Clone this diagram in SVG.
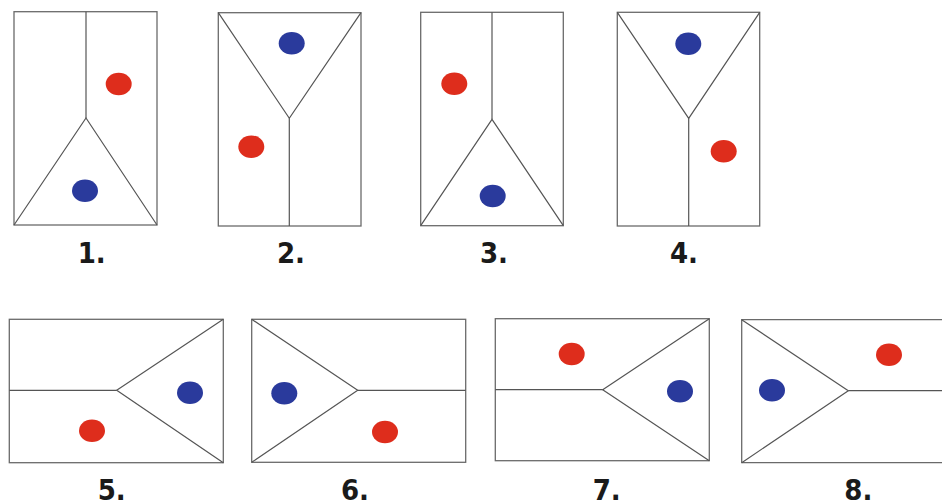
<svg xmlns="http://www.w3.org/2000/svg" width="942" height="503" viewBox="0 0 942 503">
<style>
.frame{fill:#fff;stroke:#6a6a6a;stroke-width:1.3}
.ln{fill:none;stroke:#555;stroke-width:1.2}
.red{fill:#de2d1c}
.blue{fill:#2a3a9c}
.lbl{font-family:"Liberation Sans Narrow","DejaVu Sans Condensed","Liberation Sans",sans-serif;font-weight:bold;font-size:29px;fill:#1a1a1a;text-anchor:middle}
</style>
<rect width="942" height="503" fill="#fff"/>
<g id="fig1">
<rect class="frame" x="14" y="11.7" width="143" height="213.3"/>
<polyline class="ln" points="86,11.7 86,118"/>
<polyline class="ln" points="14,225 86,118 157,225"/>
<ellipse class="red" cx="118.7" cy="84" rx="13" ry="11.3"/>
<ellipse class="blue" cx="85" cy="190.7" rx="13" ry="11.3"/>
<text class="lbl" x="91.7" y="263.3">1.</text>
</g>
<g id="fig2">
<rect class="frame" x="218.3" y="12.7" width="142.7" height="213.3"/>
<polyline class="ln" points="218.3,12.7 289.3,118.3 361,12.7"/>
<polyline class="ln" points="289.3,118.3 289.3,226"/>
<ellipse class="blue" cx="291.7" cy="43.3" rx="13" ry="11.3"/>
<ellipse class="red" cx="251.3" cy="146.7" rx="13" ry="11.3"/>
<text class="lbl" x="291" y="263.3">2.</text>
</g>
<g id="fig3">
<rect class="frame" x="420.7" y="12.3" width="142.6" height="213.4"/>
<polyline class="ln" points="492,12.3 492,119.3"/>
<polyline class="ln" points="420.7,225.7 492,119.3 563.3,225.7"/>
<ellipse class="red" cx="454.3" cy="83.7" rx="13" ry="11.3"/>
<ellipse class="blue" cx="492.7" cy="196" rx="13" ry="11.3"/>
<text class="lbl" x="494" y="263.3">3.</text>
</g>
<g id="fig4">
<rect class="frame" x="617.3" y="12.3" width="142.4" height="213.7"/>
<polyline class="ln" points="617.3,12.3 688.7,118.3 759.7,12.3"/>
<polyline class="ln" points="688.7,118.3 688.7,226"/>
<ellipse class="blue" cx="688.3" cy="43.7" rx="13" ry="11.3"/>
<ellipse class="red" cx="723.7" cy="151.3" rx="13" ry="11.3"/>
<text class="lbl" x="684" y="263.3">4.</text>
</g>
<g id="fig5">
<rect class="frame" x="9.3" y="319.3" width="214" height="143.4"/>
<polyline class="ln" points="9.3,390.3 116.7,390.3"/>
<polyline class="ln" points="223.3,319.3 116.7,390.3 223.3,462.7"/>
<ellipse class="blue" cx="190" cy="392.7" rx="13" ry="11.3"/>
<ellipse class="red" cx="92" cy="430.7" rx="13" ry="11.3"/>
<text class="lbl" x="111.7" y="499.5">5.</text>
</g>
<g id="fig6">
<rect class="frame" x="251.7" y="319.3" width="214" height="143"/>
<polyline class="ln" points="251.7,319.3 357.7,390.3 251.7,462.3"/>
<polyline class="ln" points="357.7,390.3 465.7,390.3"/>
<ellipse class="blue" cx="284.3" cy="393.3" rx="13" ry="11.3"/>
<ellipse class="red" cx="385" cy="432" rx="13" ry="11.3"/>
<text class="lbl" x="355" y="499.5">6.</text>
</g>
<g id="fig7">
<rect class="frame" x="495.3" y="318.7" width="214" height="142"/>
<polyline class="ln" points="495.3,389.7 602.7,389.7"/>
<polyline class="ln" points="709.3,318.7 602.7,389.7 709.3,460.7"/>
<ellipse class="red" cx="571.7" cy="354" rx="13" ry="11.3"/>
<ellipse class="blue" cx="680" cy="391.3" rx="13" ry="11.3"/>
<text class="lbl" x="606.7" y="499.5">7.</text>
</g>
<g id="fig8">
<polyline class="frame" points="945,319.7 741.7,319.7 741.7,462.7 945,462.7"/>
<polyline class="ln" points="741.7,319.7 848.3,390.7 741.7,462.7"/>
<polyline class="ln" points="848.3,390.7 945,390.7"/>
<ellipse class="blue" cx="772" cy="390.3" rx="13" ry="11.3"/>
<ellipse class="red" cx="889" cy="354.7" rx="13" ry="11.3"/>
<text class="lbl" x="858.3" y="499.5">8.</text>
</g>
<g id="connectors"/>
</svg>
